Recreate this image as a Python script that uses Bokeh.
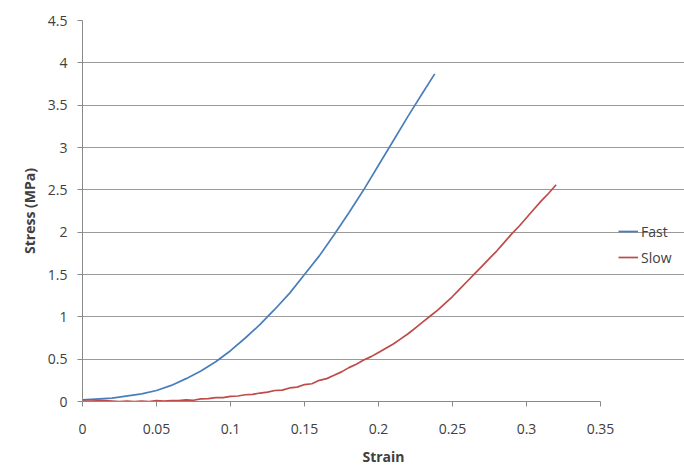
from bokeh.plotting import figure
from bokeh.models import Range1d, FixedTicker, Legend, LegendItem
from bokeh.embed import file_html
from bokeh.resources import INLINE

# ---- data ----
fast_strain = [0.0, 0.02, 0.04, 0.05, 0.06, 0.07, 0.08, 0.09, 0.10, 0.11, 0.12, 0.13,
               0.14, 0.15, 0.16, 0.17, 0.18, 0.19, 0.20, 0.21, 0.22, 0.23, 0.238]
fast_stress = [0.02, 0.04, 0.09, 0.13, 0.19, 0.27, 0.36, 0.47, 0.60, 0.75, 0.91, 1.09,
               1.28, 1.50, 1.72, 1.97, 2.23, 2.50, 2.79, 3.08, 3.37, 3.65, 3.87]

slow_strain = [0.000, 0.005, 0.010, 0.015, 0.020, 0.025, 0.030, 0.035, 0.040, 0.045,
               0.050, 0.055, 0.060, 0.065, 0.070, 0.075, 0.080, 0.085, 0.090, 0.095,
               0.100, 0.105, 0.110, 0.115, 0.120, 0.125, 0.130, 0.135, 0.140, 0.145,
               0.150, 0.155, 0.160, 0.165, 0.170, 0.175, 0.180, 0.185, 0.190, 0.195,
               0.200, 0.205, 0.210, 0.215, 0.220, 0.225, 0.230, 0.235, 0.240, 0.245,
               0.250, 0.255, 0.260, 0.265, 0.270, 0.275, 0.280, 0.285, 0.290, 0.295,
               0.300, 0.305, 0.310, 0.315, 0.320]
slow_stress = [0.02, 0.02, 0.015, 0.01, 0.005, 0.0, 0.005, 0.0, 0.005, 0.0,
               0.01, 0.005, 0.01, 0.01, 0.02, 0.015, 0.03, 0.035, 0.045, 0.045,
               0.06, 0.065, 0.08, 0.085, 0.10, 0.11, 0.13, 0.135, 0.16, 0.17,
               0.20, 0.21, 0.25, 0.27, 0.31, 0.35, 0.40, 0.44, 0.49, 0.53,
               0.58, 0.63, 0.68, 0.74, 0.80, 0.87, 0.94, 1.01, 1.08, 1.16,
               1.24, 1.33, 1.42, 1.51, 1.60, 1.69, 1.78, 1.88, 1.98, 2.07,
               2.17, 2.27, 2.37, 2.46, 2.56]

x_ticks = [0, 0.05, 0.1, 0.15, 0.2, 0.25, 0.3, 0.35]
x_tick_labels = ["0", "0.05", "0.1", "0.15", "0.2", "0.25", "0.3", "0.35"]
y_ticks = [0, 0.5, 1, 1.5, 2, 2.5, 3, 3.5, 4, 4.5]
y_tick_labels = ["0", "0.5", "1", "1.5", "2", "2.5", "3", "3.5", "4", "4.5"]

series_names = ["Fast", "Slow"]
series_colors = ["#4A7EBB", "#BE4B48"]

x_min, x_max = x_ticks[0], x_ticks[-1]
y_min, y_max = y_ticks[0], y_ticks[-1]

# ---- figure ----
# frame runs to the right edge so that the legend (drawn inside the frame) sits at the right;
# the axis and grid lines are bounded to the data range 0..0.35
frame_px = 684 - 82
axis_px = 518
p = figure(width=684, height=476, output_backend="svg", toolbar_location=None,
           x_range=Range1d(x_min, x_min + (x_max - x_min) * frame_px / axis_px),
           y_range=Range1d(y_min, y_max),
           min_border_left=82, min_border_right=0, min_border_top=20, min_border_bottom=75)
p.outline_line_color = None
p.background_fill_color = "white"
p.border_fill_color = "white"

r_fast = p.line(fast_strain, fast_stress, line_color=series_colors[0], line_width=1.7)
r_slow = p.line(slow_strain, slow_stress, line_color=series_colors[1], line_width=1.7)

text_color = "#404040"
font = "Open Sans"

p.xgrid.grid_line_color = None
p.ygrid.grid_line_color = "#9a9a9a"
p.ygrid.grid_line_width = 1
p.ygrid.ticker = FixedTicker(ticks=y_ticks)
p.ygrid.bounds = (x_min, x_max)

for ax in (p.xaxis[0], p.yaxis[0]):
    ax.axis_line_color = "#8a8a8a"
    ax.major_tick_line_color = "#8a8a8a"
    ax.minor_tick_line_color = None
    ax.major_tick_out = 5
    ax.major_tick_in = 0
    ax.major_label_text_font = font
    ax.major_label_text_font_size = "14px"
    ax.major_label_text_color = text_color
    ax.axis_label_text_font = font
    ax.axis_label_text_font_size = "14px"
    ax.axis_label_text_font_style = "bold"
    ax.axis_label_text_color = text_color

p.xaxis.ticker = FixedTicker(ticks=x_ticks)
p.xaxis.bounds = (x_min, x_max)
p.xaxis.major_label_overrides = {t: l for t, l in zip(x_ticks, x_tick_labels)}
p.yaxis.ticker = FixedTicker(ticks=y_ticks)
p.yaxis.major_label_overrides = {t: l for t, l in zip(y_ticks, y_tick_labels)}
p.xaxis.axis_label = "Strain"
p.yaxis.axis_label = "Stress (MPa)"
p.xaxis.major_label_standoff = 17
p.yaxis.major_label_standoff = 10
p.xaxis.axis_label_standoff = 10
p.yaxis.axis_label_standoff = 6

legend = Legend(items=[LegendItem(label=series_names[0], renderers=[r_fast]),
                       LegendItem(label=series_names[1], renderers=[r_slow])],
                location=(536, 134), orientation="vertical")
legend.border_line_color = None
legend.background_fill_alpha = 0
legend.padding = 0
legend.margin = 0
legend.spacing = 6
legend.glyph_width = 20
legend.glyph_height = 20
legend.label_height = 20
legend.label_standoff = 3
legend.label_text_font = font
legend.label_text_font_size = "14px"
legend.label_text_color = text_color
p.add_layout(legend)

open("out.html", "w").write(file_html(p, INLINE))
